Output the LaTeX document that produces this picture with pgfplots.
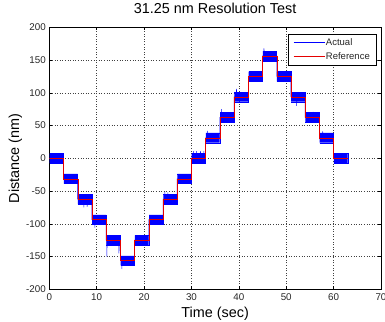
\documentclass[border=0pt]{standalone}
\usepackage{fontspec}
\setmainfont{Liberation Sans}
\usepackage{pgfplots}
\pgfplotsset{compat=1.18}
\begin{document}
\begin{tikzpicture}
\useasboundingbox (0,0) rectangle (385pt,321pt);
\begin{axis}[
  at={(49.3pt,31.7pt)}, anchor=south west,
  scale only axis, width=331.7pt, height=262pt,
  xmin=0, xmax=70, ymin=-200, ymax=200,
  xtick={0,10,20,30,40,50,60,70},
  ytick={-200,-150,-100,-50,0,50,100,150,200},
  xticklabels={0,10,20,30,40,50,60,70},
  yticklabels={-200,-150,-100,-50,0,50,100,150,200},
  tick align=inside, major tick length=3pt,
  tick style={black, line width=0.4pt},
  grid=major,
  grid style={black!75, line width=0.4pt, dash pattern=on 0.8pt off 1.8pt},
  axis line style={black, line width=0.5pt},
  ticklabel style={font=\fontsize{9.8}{11}\selectfont, text=black!85},
  xticklabel style={inner sep=0pt, anchor=north, yshift=-4pt},
  yticklabel style={inner sep=0pt, anchor=east, xshift=-3.3pt},
  title={31.25 nm Resolution Test},
  title style={at={(axis description cs:0.5,1.0279)}, anchor=base, inner sep=0pt, font=\fontsize{14.4}{16}\selectfont},
  xlabel={Time (sec)},
  ylabel={Distance (nm)},
  xlabel style={at={(axis description cs:0.5,-0.108)}, anchor=base, inner sep=0pt, font=\fontsize{14.4}{16}\selectfont},
  ylabel style={at={(axis description cs:-0.1019,0.5)}, anchor=center, inner sep=0pt, font=\fontsize{14.4}{16}\selectfont},
  legend style={at={(axis description cs:1,1)}, anchor=north east, xshift=-5pt, yshift=-6.7pt,
    draw=black, inner xsep=5pt, inner ysep=3pt,
    font=\fontsize{9.5}{11}\selectfont, text=black!85,
    nodes={inner sep=1pt, text height=7pt, text depth=2pt},
    row sep=3pt, cells={anchor=west}},
  legend image code/.code={\draw[#1] (0pt,0pt) -- (31pt,0pt);},
]
% noisy band of the measured position (forget plot)
\addplot[blue, fill=blue, line width=0.3pt, forget plot, unbounded coords=jump] table {
t y
0.05 -7.4
2.97 -7.4
2.97 7.4
0.05 7.4
nan nan
3.05 -38.65
5.97 -38.65
5.97 -23.85
3.05 -23.85
nan nan
6.05 -69.9
8.97 -69.9
8.97 -55.1
6.05 -55.1
nan nan
9.05 -101.15
11.97 -101.15
11.97 -86.35
9.05 -86.35
nan nan
12.05 -132.4
14.97 -132.4
14.97 -117.6
12.05 -117.6
nan nan
15.05 -163.65
17.97 -163.65
17.97 -148.85
15.05 -148.85
nan nan
18.05 -132.4
20.97 -132.4
20.97 -117.6
18.05 -117.6
nan nan
21.05 -101.15
23.97 -101.15
23.97 -86.35
21.05 -86.35
nan nan
24.05 -69.9
26.97 -69.9
26.97 -55.1
24.05 -55.1
nan nan
27.05 -38.65
29.97 -38.65
29.97 -23.85
27.05 -23.85
nan nan
30.05 -7.4
32.97 -7.4
32.97 7.4
30.05 7.4
nan nan
33.05 23.85
35.97 23.85
35.97 38.65
33.05 38.65
nan nan
36.05 55.1
38.97 55.1
38.97 69.9
36.05 69.9
nan nan
39.05 86.35
41.97 86.35
41.97 101.15
39.05 101.15
nan nan
42.05 117.6
44.97 117.6
44.97 132.4
42.05 132.4
nan nan
45.05 148.85
47.97 148.85
47.97 163.65
45.05 163.65
nan nan
48.05 117.6
50.97 117.6
50.97 132.4
48.05 132.4
nan nan
51.05 86.35
53.97 86.35
53.97 101.15
51.05 101.15
nan nan
54.05 55.1
56.97 55.1
56.97 69.9
54.05 69.9
nan nan
57.05 23.85
59.97 23.85
59.97 38.65
57.05 38.65
nan nan
60.05 -7.4
62.97 -7.4
62.97 7.4
60.05 7.4
};
% measured position: transitions and spikes
\addplot[blue, line width=0.5pt] coordinates {
(0,0) (3,0) (3,-31.25) (6,-31.25) (6,-62.5)
(7.3,-62.5) (7.3,-75) (7.35,-62.5) (8.0,-62.5) (8.0,-74) (8.05,-62.5)
(9,-62.5) (9,-93.75) (9.6,-93.75) (9.6,-106) (9.65,-93.75)
(12,-93.75) (12,-125) (12.15,-125) (12.15,-150) (12.2,-125)
(14.7,-125) (14.7,-145) (14.75,-125) (15,-125) (15,-156.25)
(15.3,-156.25) (15.3,-169) (15.35,-156.25) (18,-156.25) (18,-125)
(21,-125) (21,-93.75) (24,-93.75) (24,-62.5)
(24.4,-62.5) (24.4,-51) (24.45,-62.5) (25,-62.5) (25,-52) (25.05,-62.5)
(27,-62.5) (27,-31.25) (30,-31.25) (30,0)
(30.4,0) (30.4,11) (30.45,0) (31.1,0) (31.1,11) (31.15,0)
(31.9,0) (31.9,11) (31.95,0) (32.6,0) (32.6,11) (32.65,0)
(33,0) (33,31.25) (33.4,31.25) (33.4,42) (33.45,31.25)
(36,31.25) (36,62.5) (36.3,62.5) (36.3,75) (36.35,62.5)
(39,62.5) (39,93.75) (39.5,93.75) (39.5,106) (39.55,93.75)
(42,93.75) (42,125) (45,125) (45,156.25)
(45.3,156.25) (45.3,168) (45.35,156.25) (48,156.25) (48,125)
(51,125) (51,93.75) (52.2,93.75) (52.2,80) (52.25,93.75)
(54,93.75) (54,62.5) (55.7,62.5) (55.7,71) (55.75,62.5)
(56.4,62.5) (56.4,70) (56.45,62.5) (57,62.5) (57,31.25)
(57.7,31.25) (57.7,41) (57.75,31.25) (60,31.25) (60,0) (63,0)
};
% reference staircase
\addplot[red!90!black, line width=0.45pt] coordinates {
(0,0) (3,0) (3,-31.25) (6,-31.25) (6,-62.5) (9,-62.5) (9,-93.75)
(12,-93.75) (12,-125) (15,-125) (15,-156.25) (18,-156.25) (18,-125)
(21,-125) (21,-93.75) (24,-93.75) (24,-62.5) (27,-62.5) (27,-31.25)
(30,-31.25) (30,0) (33,0) (33,31.25) (36,31.25) (36,62.5) (39,62.5)
(39,93.75) (42,93.75) (42,125) (45,125) (45,156.25) (48,156.25)
(48,125) (51,125) (51,93.75) (54,93.75) (54,62.5) (57,62.5)
(57,31.25) (60,31.25) (60,0) (63,0)
};
\legend{Actual, Reference}
\end{axis}
\end{tikzpicture}
\end{document}
